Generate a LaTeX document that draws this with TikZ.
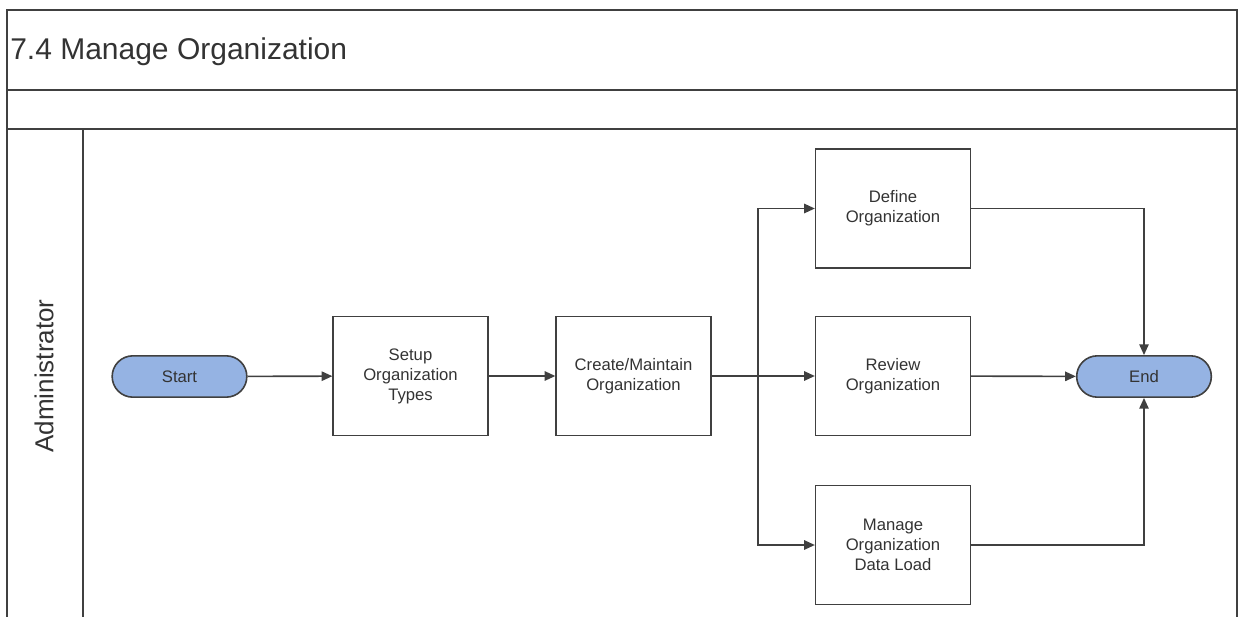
\documentclass[tikz,border=0pt]{standalone}
\usepackage{fontspec}
\setmainfont{Liberation Sans}
\usetikzlibrary{arrows.meta}
\definecolor{pillblue}{HTML}{95B3E3}
\definecolor{inkgray}{HTML}{333333}
\definecolor{linegray}{HTML}{404040}
\begin{document}
\begin{tikzpicture}[x=0.75pt,y=-0.75pt,
    lane/.style={line width=0.9pt, linegray},
    procbox/.style={draw=linegray, line width=1.2pt, minimum width=116pt, minimum height=89pt,
      align=center, text=inkgray, font=\fontsize{12.5pt}{15pt}\selectfont},
    terminal/.style={draw=linegray, line width=1.2pt, fill=pillblue, rounded corners=15.5pt,
      minimum width=101pt, minimum height=31pt, text=inkgray, font=\fontsize{12.5pt}{15pt}\selectfont},
    flow/.style={line width=1.2pt, linegray, -{Triangle[length=8pt,width=7pt]}}]
  \useasboundingbox (0,0) rectangle (1243,617);
  % pool frame
  \draw [lane] (7,617) -- (7,10) -- (1237,10) -- (1237,617);
  \draw [lane] (7,90) -- (1237,90);
  \draw [lane] (7,129) -- (1237,129);
  \draw [lane] (83,129) -- (83,617);
  \node [anchor=base west, inner sep=0, text=inkgray, font=\fontsize{22.5pt}{22.5pt}\selectfont] (title) at (10,60) {7.4 Manage Organization};
  % lane label
  \node [rotate=90, inner sep=0, text=inkgray, font=\fontsize{19.5pt}{19.5pt}\selectfont] (admin) at (44,376) {Administrator};
  % start and end
  \node [terminal] (start) at (179.5,376.5) {Start};
  \node [terminal] (end) at (1144,376.5) {End};
  % process boxes
  \node [procbox] (setup) at (410.5,376) {Setup\\Organization\\Types};
  \node [procbox] (create) at (633.5,376) {Create/Maintain\\Organization};
  \node [procbox] (define) at (893,208.5) {Define\\Organization};
  \node [procbox] (review) at (893,376) {Review\\Organization};
  \node [procbox] (manage) at (893,545) {Manage\\Organization\\Data Load};
  % connectors
  \coordinate (split) at (758,376);
  \draw [flow] (start) -- (setup);
  \draw [flow] (setup) -- (create);
  \draw [flow] (create) -- (review);
  \draw [flow] (split) |- (define);
  \draw [flow] (split) |- (manage);
  \draw [flow] (review) -- (end);
  \draw [flow] (define) -| (end);
  \draw [flow] (manage) -| (end);
\end{tikzpicture}
\end{document}
